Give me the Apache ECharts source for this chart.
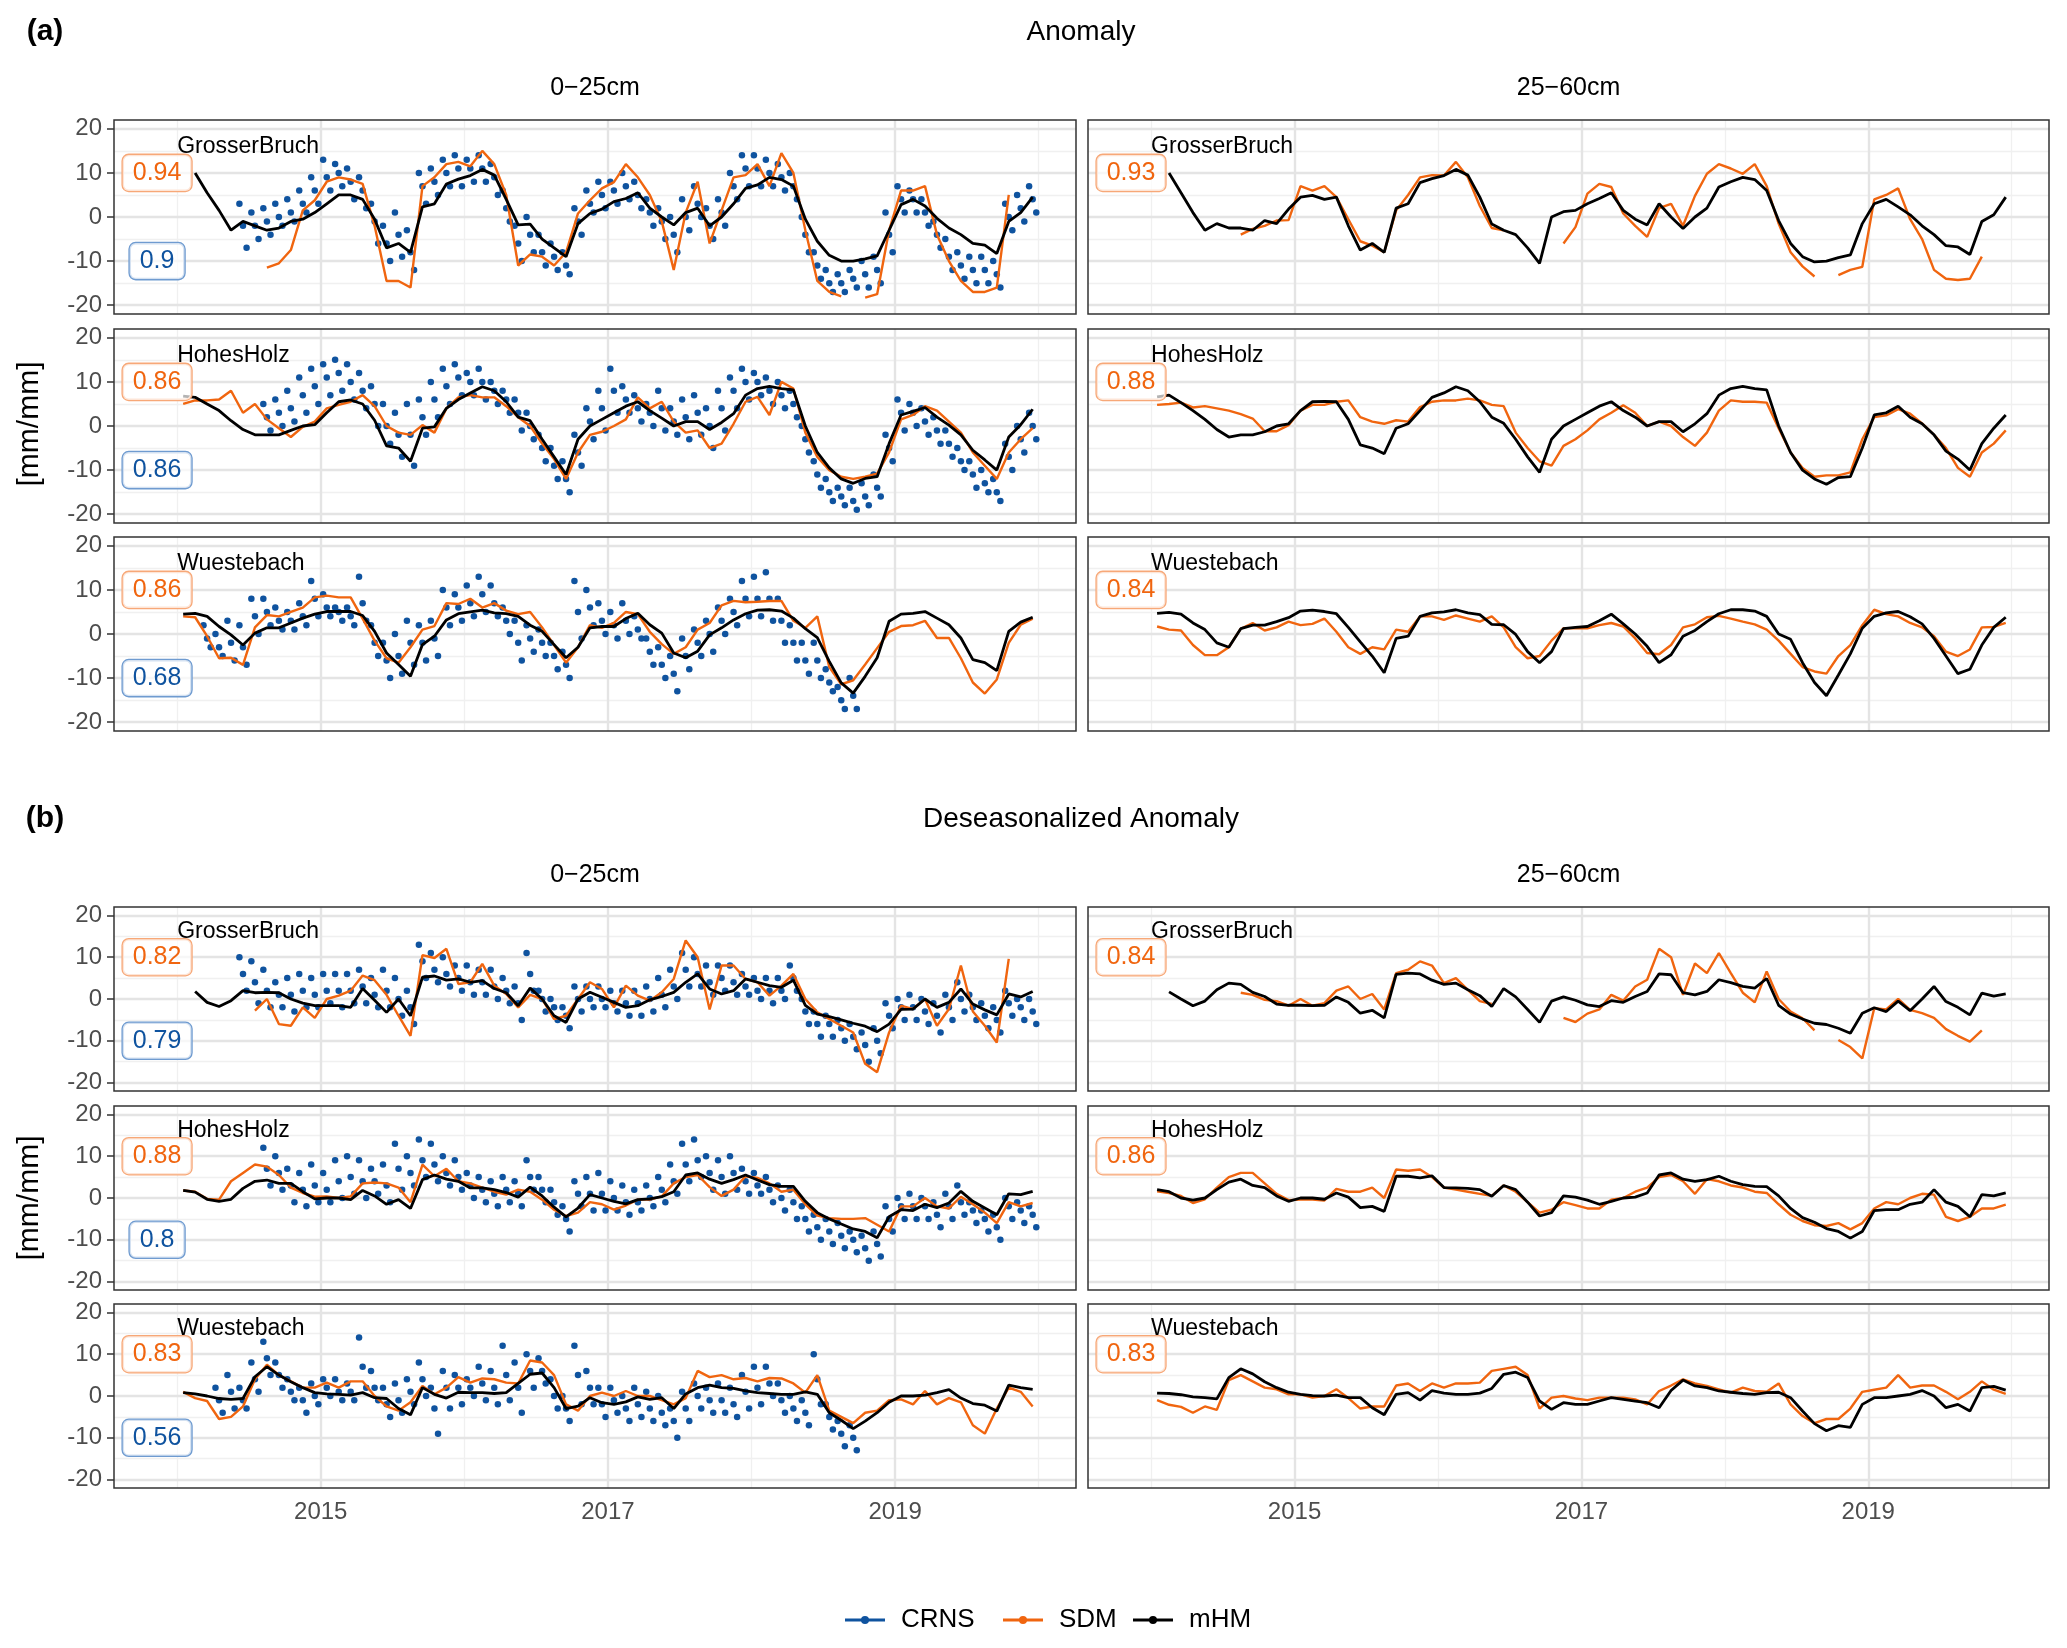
<!DOCTYPE html>
<html><head><meta charset="utf-8">
<script src="https://cdn.jsdelivr.net/npm/echarts@6/dist/echarts.min.js"></script>
<style>html,body{margin:0;padding:0;background:#fff}#c{width:2067px;height:1648px}</style>
</head><body><div id="c"></div>
<script>
// ---------------- DATA (monthly values Jan 2014 .. Dec 2019) ----------------
const sites = ['GrosserBruch', 'HohesHolz', 'Wuestebach'];
const depthLabels = ['0\u221225cm', '25\u221260cm'];
const sectionTitles = ['Anomaly', 'Deseasonalized Anomaly'];
const sectionTags = ['(a)', '(b)'];
const xTickYears = [2015, 2017, 2019];
const yTickValues = [-20, -10, 0, 10, 20];
const legendNames = ['CRNS', 'SDM', 'mHM'];

const anomCorrSDM_top = [0.94, 0.86, 0.86];
const anomCorrCRNS_top = [0.9, 0.86, 0.68];
const anomCorrSDM_sub = [0.93, 0.88, 0.84];
const desCorrSDM_top = [0.82, 0.88, 0.83];
const desCorrCRNS_top = [0.79, 0.8, 0.56];
const desCorrSDM_sub = [0.84, 0.86, 0.83];

const n = null;
// (a) Anomaly, GrosserBruch
const anomGB_top_mHM = [n,10,5.5,1.5,-3,-1,-2,-3,-2.5,-1,-0.5,1, 3,5,5,4,-0.5,-7,-6,-8,2.3,3,7.5,8.6, 9.4,10.8,9.5,4,-1.8,-1.6,-5,-7,-9,-1.5,0.8,1.8, 3.5,4.2,5.5,2,0,-1.8,1,2,-2,0,3,6.5, 7.3,9,8.5,7,-0.5,-5.5,-8.7,-10,-10,-9.5,-8.8,-3, 2.8,4,2.5,-0.3,-2.5,-4,-6,-6.4,-8.3,-1,1,4.5];
const anomGB_top_SDM = [n,n,n,n,n,n,n,-11.5,-10.5,-7.5,1.5,3.8, 8,9,8.5,7.5,-2,-14.5,-14.5,-16,7,9,12,12.5, 11.5,15,12,5,-11,-8.5,-9,-11,-8,0.8,3.8,6.5, 7.9,12,9,5,-1,-12,1,8,-6,1.5,9,9.5, 12,7,14.5,10,-3,-14.5,-17,-18,n,-18.3,-17.5,-3, 6,6,7,-4,-10,-14.5,-17,-17,-16,5,n,n];
const anomGB_top_CRNS_hi = [n,n,n,n,n,3,1,2,3,4,6,9, 13,12,11,9,3,-2,1,-3,10,11,13,14, 13,14,12,6,-2,0,-4,-6,-8,2,6,8, 8,10,8,4,2,0,4,7,2,4,10,14, 14,13,12,10,0,-8,-12,-13,-12,-10,-9,1, 7,6,4,-1,-5,-8,-9,-9,-10,3,5,7];
const anomGB_top_CRNS_mid = [n,n,n,n,n,-2,-2,-1,0,1,3,6, 9,10,8,6,-1,-6,-4,-8,7,8,10,11, 11,11,9,2,-6,-4,-8,-9,-11,-1,3,5, 6,7,5,1,-1,-4,0,3,-2,1,7,11, 11,10,9,7,-4,-11,-15,-15,-14,-13,-12,-4, 4,4,1,-4,-9,-11,-12,-12,-13,0,2,4];
const anomGB_top_CRNS_lo = [n,n,n,n,n,-7,-5,-4,-2,-1,1,3, 6,7,4,2,-6,-10,-9,-12,3,5,7,7, 8,8,5,-1,-10,-8,-11,-12,-13,-4,1,2, 3,4,2,-2,-5,-8,-3,0,-5,-2,4,7, 7,7,6,4,-8,-14,-17,-17,-16,-16,-15,-8, 1,1,-2,-7,-12,-14,-15,-15,-16,-3,-1,1];
const anomGB_sub_mHM = [n,10,5.5,1,-3,-1.5,-2.5,-2.5,-3,-0.8,-1.5,1.8, 4.5,4.9,4,4.5,-2,-7.5,-6,-8,2,3,7.8,8.7, 9.4,10.8,9.5,4.5,-1.6,-3,-4,-7,-10.5,0,1.2,1.5, 3,4.2,5.5,1.5,-0.5,-1.8,3,0,-2.6,0,2,6.8, 8,9,8.5,6,-0.8,-6,-9,-10.2,-10,-9.2,-8.6,-1.5, 3,4,2.3,0.5,-2,-4,-6.5,-6.8,-8.5,-1,0.5,4.5];
const anomGB_sub_SDM = [n,n,n,n,n,n,n,-4,-2.7,-2,-0.8,-0.7, 7,6,7,4.5,-0.5,-5.5,-6.5,-8,1.5,5,9,9.5, 9.4,12.5,9,2.5,-2.5,-3,n,n,n,n,-6,-2.3, 5.3,7.5,6.8,0.8,-2,-4.5,2,3,-2,4.8,9.8,12, 11,9.8,12,7,-1.5,-8,-11.2,-13.5,n,-13.2,-12,-11.3, 4,5,6.5,-0.5,-5,-12,-14,-14.3,-14,-9,n,n];
// (a) Anomaly, HohesHolz
const anomHH_top_mHM = [6.8,6.5,5,3.5,1.2,-0.8,-2,-2,-2,-1,0,0.3, 3,5.5,5.9,5,1.3,-4.5,-5,-8,-0.5,-0.2,4,6, 7.5,8.9,8,5.5,2,1.2,-3,-7,-11,-3,0,1.5, 3,4.5,5.5,3.5,1.8,0,1,1,-0.8,0.8,2.8,7, 8.5,9,8.5,8.2,0,-6,-9.5,-12,-13,-11.9,-11.5,-4, 2.5,3.3,4.2,2,0.2,-2,-5.5,-7.7,-10,-2.5,0.3,3.8];
const anomHH_top_SDM = [5,5.8,5.8,6,8,3,5,1.5,-0.5,-2.5,-0.2,1, 4,4.8,5.5,7,4.5,0,-1.5,-2,0.2,-1.5,4,6.5, 7,6.5,6.5,4.5,2,0,-4,-7.5,-12,-6,-2,-1.3, 0,1.5,6.5,4,5.5,1,-1.5,-1,-5,-4,0.5,5.5, 6.6,2.5,10,8.5,-1.5,-7,-10,-11.5,-12,-11.5,-10.8,-6, 1.5,2.5,4.5,3.5,1,-1.5,-6,-9,-12,-6,-3,-0.5];
const anomHH_top_CRNS_hi = [n,n,n,n,n,n,n,5,6,8,11,13, 14,15,14,12,9,5,3,5,6,10,13,14, 12,13,10,8,6,3,-2,-5,-8,-2,4,8, 13,9,7,5,8,4,6,7,4,8,11,13, 12,11,10,8,0,-8,-12,-14,-14,-13,-11,-2, 6,5,4,2,-1,-5,-8,-10,-12,-4,0,3];
const anomHH_top_CRNS_mid = [n,n,n,n,n,n,n,2,3,4,7,9, 11,12,10,8,5,0,-2,-2,2,6,9,11, 10,10,8,6,3,0,-5,-9,-12,-6,1,4, 8,6,4,3,4,1,2,3,0,4,8,10, 10,8,7,5,-3,-11,-15,-16,-17,-16,-14,-5, 3,3,1,-1,-4,-8,-11,-13,-15,-7,-3,0];
const anomHH_top_CRNS_lo = [n,n,n,n,n,n,n,-1,0,1,3,5, 7,8,6,4,0,-4,-7,-9,-2,2,5,7, 7,6,5,3,-1,-3,-8,-12,-15,-9,-3,-1, 3,3,1,0,-1,-2,-3,-2,-5,-1,4,6, 7,5,4,2,-6,-14,-17,-18,-19,-18,-16,-8, -1,0,-2,-4,-7,-10,-14,-15,-17,-10,-6,-3];
const anomHH_sub_mHM = [6.6,7,5.3,3.5,1.5,-0.8,-2.5,-2,-2,-1.3,0,0.5, 3.5,5.5,5.6,5.5,1.5,-4.3,-5,-6.3,-0.5,0.5,3.5,6.5, 7.5,8.9,8,5.5,2,0.6,-3,-7,-10.5,-3,0,1.5, 3,4.5,5.5,3.5,2,0,1,1,-1.3,0.5,2.8,7, 8.5,9,8.5,8.2,0,-6,-10,-12,-13.2,-11.7,-11.5,-5, 2.5,3,4.5,2,0.5,-2,-5.7,-7.5,-10,-4,-0.5,2.5];
const anomHH_sub_SDM = [4.8,5,5.3,4.2,4.5,4,3.5,2.7,1.7,-1.2,-1.2,0.2, 3.5,4.8,4.8,5.5,5.8,2,1,0.5,1.3,1,4.3,5.5, 5.8,5.8,6.2,5.8,4.8,4.5,-1.5,-5,-8,-9,-4.5,-3, -1,1.5,3,4.7,3,0,1,0,-2.5,-4.5,-1.5,3.5, 5.8,5.5,5.5,5.3,-0.5,-6,-9.5,-11.5,-11.2,-11.2,-10.5,-3, 2,2.4,3.8,2.8,0.6,-2,-5,-9.5,-11.5,-6,-4,-1];
// (a) Anomaly, Wuestebach
const anomWB_top_mHM = [4.5,4.7,4,1.7,-0.2,-2.5,0.2,1.4,1.4,2.5,3.6,4.5, 5.1,5.1,5.1,4.2,0.6,-4.3,-6.9,-9.6,-2.4,-0.5,3.2,4.6, 5,5.4,4.8,4.6,4,2,0.6,-2.4,-5.4,-3,1.4,1.7, 1.7,3.5,4.7,2.1,0.2,-4.3,-5.4,-3.9,-0.2,1.4,3.2,4.6, 5.4,5.5,5.2,3.6,1.2,-0.8,-6.2,-11.1,-13.4,-9.6,-5.4,2.9, 4.5,4.7,5.1,3.6,2.1,-0.9,-5.8,-6.5,-8.3,0.6,2.7,3.8];
const anomWB_top_SDM = [4,3.8,-0.5,-5.5,-5.4,-7,1.5,4.3,4,5,6,8.3, 8.7,8.3,8.3,3.5,-1.5,-5.5,-6.5,-3,1,1.8,7,6.8, 8,6,7,5.3,4.5,5,1.5,-2.5,-6.5,-3,2,1.4, 2.5,5,4.5,0.5,-2.3,-4.5,-3,1,2.5,6.5,7.5,7.2, 7.3,7.5,7.5,3,1.4,4,-7.5,-11.4,-10.5,-6.9,-3.2,0.5, 1.8,2,3,-0.9,-0.9,-5.5,-11,-13.5,-10.3,-2,2.1,3.5];
const anomWB_top_CRNS_hi = [n,n,2,0,3,2,8,8,6,5,7,12, 9,6,6,13,2,-2,0,3,2,3,10,9, 11,13,11,6,3,2,1,-2,-4,12,10,7, 5,7,4,-1,-3,-5,-1,1,3,6,8,12, 13,14,8,2,-2,-2,-8,-12,-10,n,n,n, n,n,n,n,n,n,n,n,n,n,n,n];
const anomWB_top_CRNS_mid = [n,n,-1,-3,-2,-3,4,5,3,3,4,8, 6,5,4,7,-2,-6,-5,-2,-2,-1,6,6, 7,9,7,3,-2,-1,-2,-5,-7,5,6,3, 2,3,1,-4,-7,-9,-5,-2,0,3,5,8, 8,8,3,-2,-6,-6,-11,-15,-14,n,n,n, n,n,n,n,n,n,n,n,n,n,n,n];
const anomWB_top_CRNS_lo = [n,n,-3,-5,-6,-7,0,2,1,1,2,4, 4,3,2,3,-5,-10,-9,-7,-6,-5,2,3, 4,5,4,0,-6,-4,-5,-8,-10,-1,2,0, -1,0,-1,-7,-10,-13,-8,-5,-4,0,2,4, 4,3,-2,-6,-9,-10,-13,-17,-17,n,n,n, n,n,n,n,n,n,n,n,n,n,n,n];
const anomWB_sub_mHM = [4.7,4.9,4.5,2.5,1,-2,-3,1.2,2,2,2.8,3.7, 5.2,5.4,5.1,4.6,1.5,-1.8,-5,-8.8,-1,-0.5,4,4.8, 5,5.5,4.8,4.4,2.2,2.1,-0.1,-4,-6.5,-4,1.2,1.5, 1.7,3,4.5,2.3,0,-2.8,-6.5,-4.7,-0.5,0.8,2.8,4.6, 5.5,5.5,5.2,4,0,-1.2,-6.5,-11,-14,-9.3,-4.5,1.3, 4,4.8,5.1,3.9,2.3,-1,-5,-9,-8,-2.5,1.5,3.8];
const anomWB_sub_SDM = [1.7,1,0.8,-2.5,-4.8,-4.8,-3,1.2,2.5,0.8,1.5,2.8, 2,2.3,3.5,0.5,-3,-4.5,-3,-3.5,1,0.5,4,4, 3.2,4.2,3.5,2.8,4,1.5,-3,-5.5,-5,-1.5,1.3,1.3, 1.3,2,2.5,1.7,-1,-4.3,-4.6,-2.5,1.5,2.2,3.8,4.1, 3.5,2.8,2.2,1,-1.5,-4.5,-7.5,-8.5,-9,-5,-2.5,2, 5.5,4.5,4,2.5,1.5,-0.5,-4,-5,-3.5,1.5,1.6,2.5];

// (b) Deseasonalized anomaly, GrosserBruch
const desGB_top_mHM = [n,1.8,-0.8,-1.8,-0.4,2,1.5,1.6,1.5,0,-1,-1.6, -1.6,-1.6,-2,2.5,-0.3,-3.2,0,-4,5.2,5.5,4.5,4.8, 4,4.4,2.5,1.5,-1.6,2.6,0,-4,-5.6,0,1.6,0.4, -0.8,-2,-1.6,-0.2,0.6,1.6,4,6,2.4,1.2,2,4.8, 4,3.2,2.8,4.5,-1.5,-3.6,-4.2,-5,-5.8,-6.5,-7.8,-6, -2.5,-2.4,0,-2,-0.8,2.4,-1.2,-2.6,-3.8,1.2,0.5,1.8];
const desGB_top_SDM = [n,n,n,n,n,n,-2.8,0,-6,-6.4,-2,-4.5, 0,0.8,2,5.6,4.5,1,-4,-8.8,10.5,9.8,12,3.6, 4,8.4,3.2,1.2,-2,1,0,-4.8,-4,0,4,2.4, -2,3.2,0.8,-0.4,1.6,4.8,14,10,-2.5,8,8,4.8, 4,0.8,3.2,6,0,-3.2,-4.8,-6.4,-8,-15.5,-17.5,-8, -1.6,-2.4,0,-6.4,-2.4,8,-3,-6.4,-10.4,9.6,n,n];
const desGB_top_CRNS_hi = [n,n,n,n,n,10,9,7,4,5,6,5, 6,6,6,7,5,7,5,2,13,11,10,8, 8,7,7,5,3,11,2,0,-2,3,3,3, 2,2,2,3,5,7,11,10,8,8,8,6, 5,5,5,8,0,-3,-4,-5,-6,-8,-7,-1, 0,1,0,-1,1,4,1,-1,-2,2,0,0];
const desGB_top_CRNS_mid = [n,n,n,n,n,6,4,2,1,1,2,1, 2,2,2,3,1,2,0,-2,9,7,6,5, 4,4,3,2,-1,6,0,-2,-4,0,0,0, -1,-1,-1,0,1,3,7,6,4,5,4,3, 2,2,2,5,-3,-6,-6,-7,-9,-11,-10,-4, -2,-2,-3,-4,-2,0,-2,-4,-5,-1,-2,-3];
const desGB_top_CRNS_lo = [n,n,n,n,n,2,-1,-2,-2,-3,-2,-2, -1,-2,-1,-1,-2,-2,-4,-6,5,4,3,2, 1,1,0,-1,-5,2,-3,-5,-7,-3,-2,-2, -3,-4,-4,-3,-2,0,3,3,1,2,1,1, 0,-1,0,2,-6,-9,-9,-10,-12,-15,-13,-7, -5,-5,-6,-8,-5,-3,-5,-7,-8,-4,-5,-6];
const desGB_sub_mHM = [n,1.7,0,-1.6,-0.5,2.2,3.8,3.5,1.6,0.6,-1.2,-1.5, -1.5,-1.6,-1.5,0.5,-0.8,-3.4,-2.7,-4.5,5.9,6.2,6,4.5, 3.5,3.8,2.2,0.8,-1.8,2.5,0.5,-2.5,-5.6,-0.5,0.5,-0.3, -1.4,-1.8,-0.4,-0.8,0.6,1.8,6,5.8,1.5,1,1.8,4.6, 3.9,3,2.6,4.9,-1.5,-3.6,-4.8,-5.8,-6.1,-7,-8.2,-3.4, -2.1,-3,-0.5,-2.8,0,3,-0.6,-2,-3.8,1.4,0.7,1.2];
const desGB_sub_SDM = [n,n,n,n,n,n,n,1.5,1,-0.2,-0.5,-1.6, 0,-1.6,-1,2,3,0,1.2,-2.5,6.2,7,9,8, 3.8,5,2.2,-0.5,-1.2,n,n,n,n,n,-4.5,-5.5, -3.5,-2.5,1,-0.4,3,4.6,12,10,1,8.5,6.2,11, 6.2,1.5,-0.8,6.6,0,-3,-4.6,-7.5,n,-9.8,-11.5,-14.2, -2.2,-2.5,0,-2.6,-3.4,-4.5,-7.2,-8.8,-10.2,-7.5,n,n];
// (b) Deseasonalized anomaly, HohesHolz
const desHH_top_mHM = [1.8,1.4,-0.3,-0.8,-0.3,2.3,4,4.3,3.5,3.5,1.5,-0.2, 0,0,-0.4,1.8,0.5,-1.5,-0.4,-2.5,4.4,5.5,4.5,4, 2.4,2.4,2,1.3,0.2,2.6,0.5,-2.2,-4.5,-2.4,0.8,0, -0.8,-1.4,-0.4,-0.2,0.3,1.5,5.5,6,4.5,3.5,4.4,5.5, 4.3,3.2,2.8,2.8,-0.8,-3.5,-5,-6.2,-7.4,-8,-9.5,-4.5, -2.8,-3,-1.5,-2.3,-1.2,1.6,-0.8,-2.4,-4,1,0.8,1.6];
const desHH_top_SDM = [1.8,1.5,-0.2,-0.4,4,6,8,7.5,5.5,2.5,1.2,0.3, 0.4,0,0.4,3.5,3.7,3.5,2.5,-1,8,5.2,7,4, 3.5,2.5,1.5,0.8,2,1.5,-0.4,-2.8,-4.3,-3.5,-1,-1.5, -2.8,-1.8,-0.4,-0.4,0.4,3.5,5,5.5,2.6,0.5,2,5.2, 4.8,3.5,1.5,2,-1.5,-4.2,-4.8,-5,-5,-4.8,-6.4,-8, -2,-2,0,-2,-2.5,0.3,-1.5,-3.5,-6,-1,-2,-1.2];
const desHH_top_CRNS_hi = [n,n,n,n,n,n,n,12,10,7,6,8, 6,9,10,9,7,8,13,10,14,13,10,9, 6,5,4,5,4,9,5,2,-2,4,5,6, 4,3,2,3,5,8,13,14,10,9,10,7, 6,5,3,2,-2,-4,-5,-6,-8,-9,-8,-2, 0,1,0,-1,1,3,-1,-3,-4,0,-1,-2];
const desHH_top_CRNS_mid = [n,n,n,n,n,n,n,7,6,3,2,3, 2,4,5,4,4,3,7,6,9,8,6,5, 3,2,1,2,1,5,2,-1,-5,1,1,1, 0,-1,-1,0,2,4,8,9,6,5,6,4, 3,2,0,-1,-5,-7,-8,-9,-10,-12,-11,-5, -2,-2,-2,-4,-2,-1,-3,-5,-7,-2,-3,-4];
const desHH_top_CRNS_lo = [n,n,n,n,n,n,n,3,2,-1,-2,-1, -1,0,1,0,1,-1,2,3,5,4,3,2, 0,-1,-2,-1,-2,2,-1,-4,-8,-2,-3,-3, -3,-4,-3,-2,-1,1,4,5,2,1,2,1, 1,-1,-3,-5,-8,-10,-11,-12,-13,-15,-14,-8, -5,-5,-5,-7,-5,-4,-6,-8,-10,-5,-6,-7];
const desHH_sub_mHM = [2,1.5,0,-0.5,0,2,3.8,4.5,3,2.5,0.5,-0.8, 0,0,-0.3,1.2,0.2,-2.3,-2,-3.2,5.2,5.2,4.8,5.3, 2.5,2.4,2.3,2,0.4,3,2,-1,-4.3,-3.5,0.5,0.2, -0.5,-1.5,-0.8,0,0.2,1.2,5.5,6,4.5,4,4.4,5.2, 4,3.2,2.8,2.7,0.5,-2.5,-4.7,-5.8,-7.3,-8,-9.6,-8, -3,-2.8,-2.8,-1.5,-1,2,-1,-2,-4.5,0.8,0.5,1.2];
const desHH_sub_SDM = [1.6,1.2,0.5,-1.2,-0.3,2.5,5,6,6,3.5,1,-0.5, -0.4,-0.4,-0.6,2.2,1.5,1.5,2.5,0,6.8,6.5,6.8,5, 2.5,2,1.5,1,0.5,3,1.5,-1,-3.5,-2.8,-1,-1.7, -2.5,-2.5,-0.4,0,1.5,2.5,5,5.5,4,1,4.5,4, 3,2.5,1.5,1.2,-1.5,-4,-5.5,-6.5,-6.7,-6,-7.5,-6, -2.5,-1,-1.5,0,1,0.8,-4.5,-5.5,-4.5,-2.5,-2.5,-1.6];
// (b) Deseasonalized anomaly, Wuestebach
const desWB_top_mHM = [0.8,0.5,0,-0.6,-0.8,-0.6,4.6,7,5,3.4,2,0.8, 0.5,0.4,0.2,0.8,-0.4,-0.6,-3,-4.5,2,0.4,-0.5,0.9, 0.8,0.8,0.6,0.8,3,5.2,5.5,2,-3,-2.4,-0.4,-1.6, -2,-1.4,-0.2,-0.8,-0.4,-3,0.5,2,2.6,2,1.8,1.2, 0.8,0.6,0.4,0.4,1,0.4,-4,-5.8,-7.8,-6,-4,-1.5, 0,0,0.2,0.8,1.5,-0.5,-1.8,-2.2,-3.6,2.6,2,1.6];
const desWB_top_SDM = [1,-0.5,-1.2,-5.5,-5,-2.5,4,7.5,5,3.5,2,2, 3.2,2,3.5,3.5,0,-2.5,-3.5,-1.5,2.4,0.4,2,4.5, 3.2,4.2,4,3.2,3,8.5,8,5,-2,-3.5,0,0.8, 0,1.2,0,0,-1,-2,-0.5,6,4.5,5,4,4.3, 3.5,4.3,4.2,3,0.8,5,-3.5,-5,-6.5,-4,-3.5,-1, -0.8,-2,1.2,-2,-0.5,-1.5,-7,-9,-3,2,1,-2.5];
const desWB_top_CRNS_hi = [n,n,n,2,5,2,8,13,8,4,2,3, 4,4,3,14,6,2,3,4,8,2,6,5, 4,7,6,12,8,10,9,4,0,12,6,2, 2,0,2,1,0,-3,1,3,2,3,2,5, 7,7,3,0,-1,10,-2,-6,-7,n,n,n, n,n,n,n,n,n,n,n,n,n,n,n];
const desWB_top_CRNS_mid = [n,n,n,-1,1,-1,4,9,5,1,-1,0, 2,1,1,7,2,-2,-1,1,4,-3,2,2, 2,3,2,5,2,6,6,0,-3,5,2,-2, -1,-3,-2,-3,-4,-6,-3,0,-1,-1,-2,1, 2,3,-1,-3,-4,4,-5,-9,-10,n,n,n, n,n,n,n,n,n,n,n,n,n,n,n];
const desWB_top_CRNS_lo = [n,n,n,-4,-3,-3,1,5,2,-1,-4,-2, 0,-1,-1,2,-1,-5,-4,-2,0,-9,-3,-2, 0,-1,-2,-1,-4,2,3,-3,-6,-2,-2,-5, -4,-6,-5,-6,-7,-10,-6,-3,-4,-4,-5,-3, -2,0,-4,-6,-7,-2,-8,-12,-13,n,n,n, n,n,n,n,n,n,n,n,n,n,n,n];
const desWB_sub_mHM = [0.7,0.6,0.3,-0.2,-0.4,-0.7,4.4,6.5,5.3,3.4,2,0.9, 0.4,0.1,0,0.2,-0.4,-0.4,-2.8,-4.5,0.4,0.8,-1,1.3, 0.7,0.4,0.4,0.7,1.8,5.2,5.7,4.4,-1.2,-3.2,-1.6,-2, -2,-1.2,-0.4,-0.8,-1.2,-1.6,-2.8,1.3,3.8,2.4,2,1.2, 0.9,0.6,0.4,0.8,0.9,-0.4,-3.6,-6.6,-8.3,-7.1,-7.5,-2, -0.4,-0.4,0,0.4,1.3,0,-2.8,-2,-3.6,2,2.3,1.4];
const desWB_sub_SDM = [-1,-2.1,-2.6,-4,-2.5,-3.3,3.8,5,3.5,2,1.6,0.4, 0.4,-0.4,0,1.6,-0.5,-3,-2.5,-2.5,2.5,3,1.2,3, 2,3,3,3.2,6,6.5,7,5,-3,-0.4,0,-0.6, -1,-0.4,-0.4,-0.4,-0.8,-2,1.2,2.5,4,3,2.4,1.6, 0.8,2,1.2,1,3,-2,-4.8,-6.5,-5.5,-5.5,-3,1, 1.5,2,5,2,2.5,2.5,1,-0.8,1,3.5,1.5,0.5];

// ---------------- STYLE / LAYOUT ----------------
const FONT = '"Liberation Sans", Arial, Helvetica, sans-serif';
const C_CRNS = '#0f539f', C_SDM = '#f0650f', C_MHM = '#000000';
const C_CRNS_BOX = '#6f9bd0', C_SDM_BOX = '#f7a878';
const X_MIN = 2013.56, X_MAX = 2020.26, Y_MIN = -22, Y_MAX = 22;
const COL_LEFT = [114, 1088], COL_W = [962, 961];
const ROW_TOP = {a: [120, 329, 537], b: [907, 1106, 1304]};
const ROW_H = {a: 194, b: 184};

function monthX(i, off) { return 2014 + (i + off) / 12; }
function toLine(arr) { return arr.map((v, i) => [monthX(i, 0.5), v]); }
function toDots(hi, mid, lo) {
  const out = [];
  hi.forEach((v, i) => {
    if (v != null) out.push([monthX(i, 0.2), v]);
    if (mid[i] != null) out.push([monthX(i, 0.5), mid[i]]);
    if (lo[i] != null) out.push([monthX(i, 0.8), lo[i]]);
  });
  return out;
}

const panels = [
  {sec:'a', row:0, col:0, mhm:anomGB_top_mHM, sdm:anomGB_top_SDM, hi:anomGB_top_CRNS_hi, mid:anomGB_top_CRNS_mid, lo:anomGB_top_CRNS_lo, rS:anomCorrSDM_top[0], rC:anomCorrCRNS_top[0]},
  {sec:'a', row:0, col:1, mhm:anomGB_sub_mHM, sdm:anomGB_sub_SDM, rS:anomCorrSDM_sub[0]},
  {sec:'a', row:1, col:0, mhm:anomHH_top_mHM, sdm:anomHH_top_SDM, hi:anomHH_top_CRNS_hi, mid:anomHH_top_CRNS_mid, lo:anomHH_top_CRNS_lo, rS:anomCorrSDM_top[1], rC:anomCorrCRNS_top[1]},
  {sec:'a', row:1, col:1, mhm:anomHH_sub_mHM, sdm:anomHH_sub_SDM, rS:anomCorrSDM_sub[1]},
  {sec:'a', row:2, col:0, mhm:anomWB_top_mHM, sdm:anomWB_top_SDM, hi:anomWB_top_CRNS_hi, mid:anomWB_top_CRNS_mid, lo:anomWB_top_CRNS_lo, rS:anomCorrSDM_top[2], rC:anomCorrCRNS_top[2]},
  {sec:'a', row:2, col:1, mhm:anomWB_sub_mHM, sdm:anomWB_sub_SDM, rS:anomCorrSDM_sub[2]},
  {sec:'b', row:0, col:0, mhm:desGB_top_mHM, sdm:desGB_top_SDM, hi:desGB_top_CRNS_hi, mid:desGB_top_CRNS_mid, lo:desGB_top_CRNS_lo, rS:desCorrSDM_top[0], rC:desCorrCRNS_top[0]},
  {sec:'b', row:0, col:1, mhm:desGB_sub_mHM, sdm:desGB_sub_SDM, rS:desCorrSDM_sub[0]},
  {sec:'b', row:1, col:0, mhm:desHH_top_mHM, sdm:desHH_top_SDM, hi:desHH_top_CRNS_hi, mid:desHH_top_CRNS_mid, lo:desHH_top_CRNS_lo, rS:desCorrSDM_top[1], rC:desCorrCRNS_top[1]},
  {sec:'b', row:1, col:1, mhm:desHH_sub_mHM, sdm:desHH_sub_SDM, rS:desCorrSDM_sub[1]},
  {sec:'b', row:2, col:0, mhm:desWB_top_mHM, sdm:desWB_top_SDM, hi:desWB_top_CRNS_hi, mid:desWB_top_CRNS_mid, lo:desWB_top_CRNS_lo, rS:desCorrSDM_top[2], rC:desCorrCRNS_top[2]},
  {sec:'b', row:2, col:1, mhm:desWB_sub_mHM, sdm:desWB_sub_SDM, rS:desCorrSDM_sub[2]}
];

const grids = [], xAxes = [], yAxes = [], series = [], graphics = [];
const majorX = [2015, 2017, 2019], minorX = [2014, 2016, 2018, 2020];
const majorY = [-20, -10, 0, 10, 20], minorY = [-15, -5, 5, 15];

panels.forEach((p, i) => {
  const top = ROW_TOP[p.sec][p.row], h = ROW_H[p.sec];
  const left = COL_LEFT[p.col], w = COL_W[p.col];
  const bottomRow = p.row === 2;
  grids.push({left, top, width: w, height: h, show: true, backgroundColor: '#fff', borderWidth: 0, z: 0});
  graphics.push({type: 'rect', silent: true, z: 100, shape: {x: left, y: top, width: w, height: h},
    style: {fill: 'none', stroke: '#333333', lineWidth: 1.5}});
  xAxes.push({gridIndex: i, type: 'value', min: X_MIN, max: X_MAX,
    axisLine: {show: false}, splitLine: {show: false},
    axisTick: {show: bottomRow, customValues: xTickYears, length: 7, lineStyle: {color: '#333', width: 1.5}},
    axisLabel: {show: bottomRow && p.sec === 'b', customValues: xTickYears, formatter: v => String(v),
      fontSize: 24, fontFamily: FONT, color: '#4d4d4d', margin: 12}});
  yAxes.push({gridIndex: i, type: 'value', min: Y_MIN, max: Y_MAX,
    axisLine: {show: false}, splitLine: {show: false},
    axisTick: {show: p.col === 0, customValues: yTickValues, length: 7, lineStyle: {color: '#333', width: 1.5}},
    axisLabel: {show: p.col === 0, customValues: yTickValues, formatter: v => String(v),
      fontSize: 24, fontFamily: FONT, color: '#4d4d4d', margin: 12}});
  const gl = [];
  minorX.forEach(v => gl.push({xAxis: v, lineStyle: {color: '#f0f0f0', width: 1.3, type: 'solid'}}));
  minorY.forEach(v => gl.push({yAxis: v, lineStyle: {color: '#f0f0f0', width: 1.3, type: 'solid'}}));
  majorX.forEach(v => gl.push({xAxis: v, lineStyle: {color: '#e4e4e4', width: 2.4, type: 'solid'}}));
  majorY.forEach(v => gl.push({yAxis: v, lineStyle: {color: '#e4e4e4', width: 2.4, type: 'solid'}}));
  series.push({type: 'line', xAxisIndex: i, yAxisIndex: i, data: [], z: 1, silent: true, symbol: 'none',
    markLine: {z: 1, silent: true, animation: false, symbol: ['none', 'none'], label: {show: false}, data: gl}});
  if (p.hi) {
    series.push({name: 'CRNS', type: 'scatter', xAxisIndex: i, yAxisIndex: i, z: 2,
      data: toDots(p.hi, p.mid, p.lo), symbol: 'circle', symbolSize: 6.5, itemStyle: {color: C_CRNS, opacity: 1}, silent: true});
  }
  series.push({name: 'SDM', type: 'line', xAxisIndex: i, yAxisIndex: i, z: 3, data: toLine(p.sdm),
    symbol: 'none', showSymbol: false, connectNulls: false, lineStyle: {color: C_SDM, width: 2.4}, itemStyle: {color: C_SDM}, silent: true});
  series.push({name: 'mHM', type: 'line', xAxisIndex: i, yAxisIndex: i, z: 4, data: toLine(p.mhm),
    symbol: 'none', showSymbol: false, connectNulls: false, lineStyle: {color: C_MHM, width: 2.8}, itemStyle: {color: C_MHM}, silent: true});
  const mp = [
    {coord: [2014.0, 16], label: {show: true, position: 'right', distance: 0, formatter: sites[p.row],
      color: '#000', fontSize: 23, fontFamily: FONT}},
    {coord: [2013.86, 10], label: {show: true, position: 'inside', formatter: String(p.rS), color: C_SDM,
      fontSize: 25, fontFamily: FONT, backgroundColor: 'rgba(255,255,255,0.7)', borderColor: C_SDM_BOX,
      borderWidth: 1.3, borderRadius: 6, padding: [6, 10, 5, 10]}}
  ];
  if (p.rC != null) {
    mp.push({coord: [2013.86, -10], label: {show: true, position: 'inside', formatter: String(p.rC), color: C_CRNS,
      fontSize: 25, fontFamily: FONT, backgroundColor: 'rgba(255,255,255,0.7)', borderColor: C_CRNS_BOX,
      borderWidth: 1.3, borderRadius: 6, padding: [6, 10, 5, 10]}});
  }
  series.push({type: 'line', xAxisIndex: i, yAxisIndex: i, data: [], z: 10, silent: true, symbol: 'none',
    markPoint: {z: 10, silent: true, animation: false, symbol: 'circle', symbolSize: 0, data: mp}});
});

function txt(x, y, text, size, bold) {
  return {type: 'text', x, y, silent: true, z: 100,
    style: {text, fontSize: size, fontFamily: FONT, fill: '#000', align: 'center', verticalAlign: 'middle',
      textAlign: 'center', textVerticalAlign: 'middle', fontWeight: bold ? 'bold' : 'normal'}};
}
graphics.push(txt(45, 32, sectionTags[0], 30, true));
graphics.push(txt(1081, 32, sectionTitles[0], 28));
graphics.push(txt(45, 819, sectionTags[1], 30, true));
graphics.push(txt(1081, 819, sectionTitles[1], 28));
[88, 875].forEach(y => {
  graphics.push(txt(COL_LEFT[0] + COL_W[0] / 2, y, depthLabels[0], 25));
  graphics.push(txt(COL_LEFT[1] + COL_W[1] / 2, y, depthLabels[1], 25));
});
[424, 1198].forEach(y => {
  graphics.push({type: 'text', x: 30, y, rotation: Math.PI / 2, silent: true, z: 100,
    style: {text: '[mm/mm]', fontSize: 30, fontFamily: FONT, fill: '#000', align: 'center', verticalAlign: 'middle',
      textAlign: 'center', textVerticalAlign: 'middle'}});
});
const legendColors = [C_CRNS, C_SDM, C_MHM];
const legendKeyX = [845, 1003, 1133];
legendNames.forEach((nm, k) => {
  const x0 = legendKeyX[k], y0 = 1620;
  graphics.push({type: 'line', silent: true, z: 100, shape: {x1: x0, y1: y0, x2: x0 + 40, y2: y0},
    style: {stroke: legendColors[k], lineWidth: 3}});
  graphics.push({type: 'circle', silent: true, z: 101, shape: {cx: x0 + 20, cy: y0, r: 4},
    style: {fill: legendColors[k]}});
  graphics.push({type: 'text', x: x0 + 56, y: y0, silent: true, z: 100,
    style: {text: nm, fontSize: 26, fontFamily: FONT, fill: '#000', align: 'left', verticalAlign: 'middle',
      textAlign: 'left', textVerticalAlign: 'middle'}});
});

const chart = echarts.init(document.getElementById('c'), null, {renderer: 'canvas'});
chart.setOption({
  animation: false,
  backgroundColor: '#fff',
  grid: grids, xAxis: xAxes, yAxis: yAxes, series,
  graphic: {elements: graphics}
});
</script>
</body></html>
